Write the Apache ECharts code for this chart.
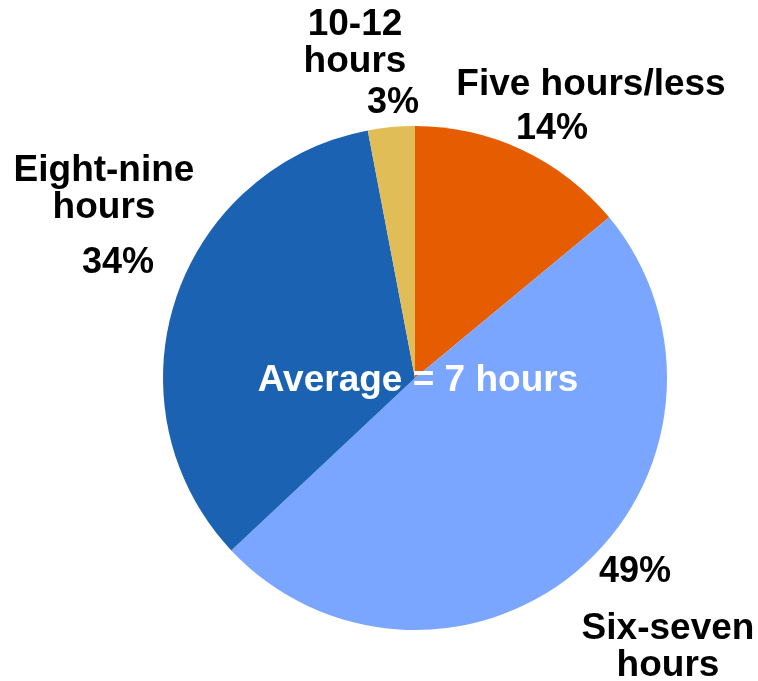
<!DOCTYPE html>
<html>
<head>
<meta charset="utf-8">
<script src="https://cdn.jsdelivr.net/npm/echarts@6/dist/echarts.min.js"></script>
<style>
  html, body { margin: 0; padding: 0; background: #fff; }
  #main { width: 758px; height: 681px; }
</style>
</head>
<body>
<div id="main"></div>
<script>
// 睡眠时长分布 (饼图)
const categories = ['Five hours/less', 'Six-seven hours', 'Eight-nine hours', '10-12 hours'];
const nameLabels = ['Five hours/less', 'Six-seven\nhours', 'Eight-nine\nhours', '10-12\nhours'];
const shares = [14, 49, 34, 3];
const sliceColors = ['#e55d00', '#7aa6ff', '#1b63b2', '#e1bd57'];
const centerNote = 'Average = 7 hours';

// label anchor points (layout only)
const pctPos = [[552, 129], [635, 572], [118, 263], [393, 103]];
const namePos = [[591, 85], [668, 647], [104, 189], [355, 43]];

const font = { fontFamily: '"Liberation Sans", Arial, sans-serif', fontWeight: 'bold', fontSize: 37, lineHeight: 37, color: '#000' };

const chart = echarts.init(document.getElementById('main'));
const pieData = categories.map((c, i) => ({ name: c, value: shares[i], itemStyle: { color: sliceColors[i] } }));

const option = {
    animation: false,
    series: [
        {
            type: 'pie',
            z: 2,
            center: [415, 378],
            radius: 252,
            startAngle: 90,
            clockwise: true,
            silent: true,
            itemStyle: { borderWidth: 0 },
            label: Object.assign({ show: true, position: 'outside', overflow: 'none', formatter: p => p.value + '%' }, font, { fontSize: 36 }),
            labelLine: { show: false },
            labelLayout: p => ({ x: pctPos[p.dataIndex][0], y: pctPos[p.dataIndex][1], align: 'center', verticalAlign: 'middle' }),
            data: pieData
        },
        {
            // 只用来放名称标签
            type: 'pie',
            z: 1,
            center: [415, 378],
            radius: 252,
            startAngle: 90,
            silent: true,
            itemStyle: { color: 'rgba(0,0,0,0)', borderWidth: 0 },
            label: Object.assign({ show: true, position: 'outside', overflow: 'none', formatter: p => nameLabels[p.dataIndex] }, font),
            labelLine: { show: false },
            labelLayout: p => ({ x: namePos[p.dataIndex][0], y: namePos[p.dataIndex][1], align: 'center', verticalAlign: 'middle' }),
            data: categories.map((c, i) => ({ name: c, value: shares[i] }))
        }
    ],
    graphic: [{
        type: 'text',
        z: 100,
        x: 418, y: 381,
        style: Object.assign({}, font, { text: centerNote, fill: '#fff', align: 'center', verticalAlign: 'middle' }),
        silent: true
    }]
};
chart.setOption(option);
window.addEventListener('resize', () => chart.resize());
</script>
</body>
</html>
